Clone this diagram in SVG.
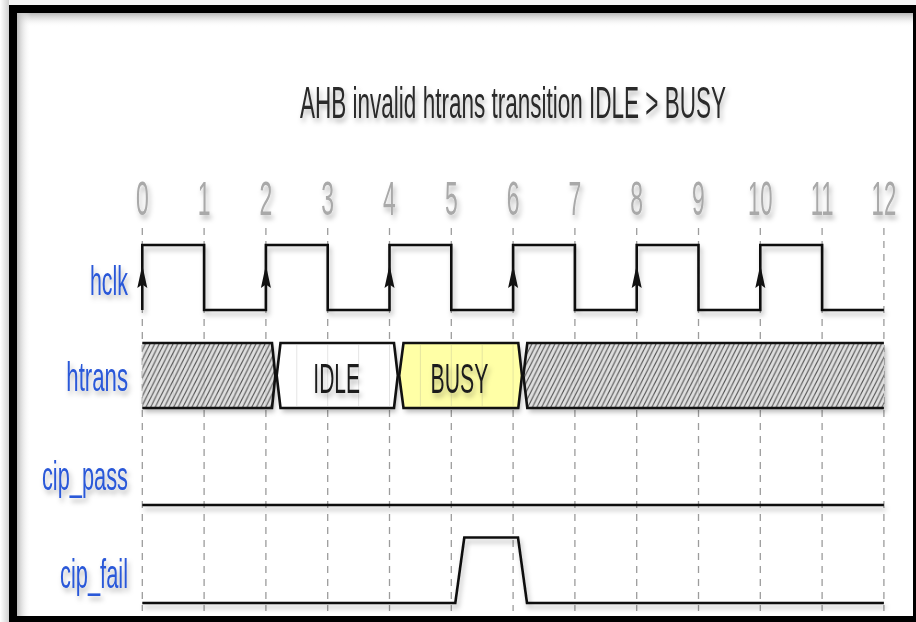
<svg xmlns="http://www.w3.org/2000/svg" width="916" height="622" viewBox="0 0 916 622">
  <style>
    .sig{fill:none;stroke:#111;stroke-width:2.6;stroke-linejoin:miter}
    .grid{stroke:#9c9c9c;stroke-width:1.3;stroke-dasharray:7 6}
    .faint{stroke:#8a8a8a;stroke-width:1;opacity:0.22}
    .lbl{font-family:"Liberation Sans",Arial,sans-serif;font-size:40px;fill:#2a58d8;text-anchor:end}
    .tick{font-family:"Liberation Sans",Arial,sans-serif;font-size:46px;fill:#a9a9a9;text-anchor:middle}
    .val{font-family:"Liberation Sans",Arial,sans-serif;font-size:42px;fill:#1e1e1e;text-anchor:middle}
    .title{font-family:"Liberation Sans",Arial,sans-serif;font-size:42px;fill:#2a2a2a;text-anchor:middle}
  </style>
  <defs>
    <filter id="sh" filterUnits="userSpaceOnUse" x="0" y="0" width="916" height="622">
      <feDropShadow dx="2" dy="4" stdDeviation="2.5" flood-color="#000" flood-opacity="0.28"/>
    </filter>
    <pattern id="hatch" patternUnits="userSpaceOnUse" width="4.6" height="9.2">
      <rect width="4.6" height="9.2" fill="#dedede"/>
      <path d="M0,9.2 L4.6,0 M-4.6,9.2 L0,0 M4.6,9.2 L9.2,0" stroke="#4a4a4a" stroke-width="1"/>
    </pattern>
    <linearGradient id="topSh" x1="0" y1="0" x2="0" y2="1">
      <stop offset="0" stop-color="#b8b8b8"/>
      <stop offset="1" stop-color="#ffffff" stop-opacity="0"/>
    </linearGradient>
    <linearGradient id="leftSh" x1="0" y1="0" x2="1" y2="0">
      <stop offset="0" stop-color="#bcbcbc"/>
      <stop offset="1" stop-color="#ffffff" stop-opacity="0"/>
    </linearGradient>
    <linearGradient id="outL" x1="0" y1="0" x2="1" y2="0">
      <stop offset="0" stop-color="#ffffff"/>
      <stop offset="1" stop-color="#d0d0d0"/>
    </linearGradient>
  </defs>

  <!-- background & frame -->
  <rect x="0" y="0" width="916" height="622" fill="#f6f6f6"/>
  <rect x="0" y="0" width="9" height="622" fill="url(#outL)"/>
  <rect x="13" y="9" width="904" height="611" fill="#ffffff"/>
  <rect x="17" y="13" width="896" height="14" fill="url(#topSh)"/>
  <rect x="17" y="13" width="14" height="603" fill="url(#leftSh)"/>
  <rect x="13" y="9" width="904" height="611" fill="none" stroke="#000" stroke-width="8"/>

  <!-- title -->
  <g id="title" filter="url(#sh)">
    <text class="title" transform="translate(513,118) scale(0.536,1.04)">AHB invalid htrans transition IDLE &gt; BUSY</text>
  </g>

  <!-- tick numbers -->
  <g id="ticks" filter="url(#sh)">
    <text class="tick" transform="translate(142.3,215) scale(0.5,1.04)">0</text>
    <text class="tick" transform="translate(204.1,215) scale(0.5,1.04)">1</text>
    <text class="tick" transform="translate(265.9,215) scale(0.5,1.04)">2</text>
    <text class="tick" transform="translate(327.7,215) scale(0.5,1.04)">3</text>
    <text class="tick" transform="translate(389.5,215) scale(0.5,1.04)">4</text>
    <text class="tick" transform="translate(451.3,215) scale(0.5,1.04)">5</text>
    <text class="tick" transform="translate(513.1,215) scale(0.5,1.04)">6</text>
    <text class="tick" transform="translate(574.9,215) scale(0.5,1.04)">7</text>
    <text class="tick" transform="translate(636.7,215) scale(0.5,1.04)">8</text>
    <text class="tick" transform="translate(698.5,215) scale(0.5,1.04)">9</text>
    <text class="tick" transform="translate(760.3,215) scale(0.48,1.04)">10</text>
    <text class="tick" transform="translate(822.1,215) scale(0.48,1.04)">11</text>
    <text class="tick" transform="translate(883.9,215) scale(0.48,1.04)">12</text>
  </g>

  <!-- grid -->
  <g id="grid">
    <line class="grid" x1="142.3" y1="228" x2="142.3" y2="611"/>
    <line class="grid" x1="204.1" y1="228" x2="204.1" y2="611"/>
    <line class="grid" x1="265.9" y1="228" x2="265.9" y2="611"/>
    <line class="grid" x1="327.7" y1="228" x2="327.7" y2="611"/>
    <line class="grid" x1="389.5" y1="228" x2="389.5" y2="611"/>
    <line class="grid" x1="451.3" y1="228" x2="451.3" y2="611"/>
    <line class="grid" x1="513.1" y1="228" x2="513.1" y2="611"/>
    <line class="grid" x1="574.9" y1="228" x2="574.9" y2="611"/>
    <line class="grid" x1="636.7" y1="228" x2="636.7" y2="611"/>
    <line class="grid" x1="698.5" y1="228" x2="698.5" y2="611"/>
    <line class="grid" x1="760.3" y1="228" x2="760.3" y2="611"/>
    <line class="grid" x1="822.1" y1="228" x2="822.1" y2="611"/>
    <line class="grid" x1="883.9" y1="228" x2="883.9" y2="611"/>
  </g>

  <!-- labels -->
  <g id="labels" filter="url(#sh)">
    <text class="lbl" transform="translate(128,295) scale(0.535,1)">hclk</text>
    <text class="lbl" transform="translate(128,391) scale(0.555,1)">htrans</text>
    <text class="lbl" transform="translate(128,490) scale(0.545,1)">cip_pass</text>
    <text class="lbl" transform="translate(128,588) scale(0.546,1)">cip_fail</text>
  </g>

  <!-- hclk -->
  <g id="hclk">
    <path class="sig" filter="url(#sh)" d="M142.3,310 V245 H204.1 V310 H265.9 V245 H327.7 V310 H389.5 V245 H451.3 V310 H513.1 V245 H574.9 V310 H636.7 V245 H698.5 V310 H760.3 V245 H822.1 V310 H883.9"/>
    <g fill="#111">
      <path d="M142.3,265 L147.3,288 L142.3,284.5 L137.3,288 Z"/>
      <path d="M265.9,265 L270.9,288 L265.9,284.5 L260.9,288 Z"/>
      <path d="M389.5,265 L394.5,288 L389.5,284.5 L384.5,288 Z"/>
      <path d="M513.1,265 L518.1,288 L513.1,284.5 L508.1,288 Z"/>
      <path d="M636.7,265 L641.7,288 L636.7,284.5 L631.7,288 Z"/>
      <path d="M760.3,265 L765.3,288 L760.3,284.5 L755.3,288 Z"/>
    </g>
  </g>

  <!-- htrans -->
  <g id="htrans">
    <g filter="url(#sh)">
      <path d="M142.3,343 H272 L275.3,375.5 L272,408 H142.3 Z" fill="url(#hatch)"/>
      <path d="M280.5,343 H394 L397.8,375.5 L394,408 H280.5 L276.7,375.5 Z" fill="#ffffff"/>
      <path d="M403.5,343 H518.3 L522,375.5 L518.3,408 H403.5 L399.2,375.5 Z" fill="#ffffa6"/>
      <path d="M883.9,343 H527.3 L523.4,375.5 L527.3,408 H883.9 Z" fill="url(#hatch)"/>
    </g>
    <g>
      <line class="faint" x1="173.2" y1="345" x2="173.2" y2="406"/>
      <line class="faint" x1="204.1" y1="345" x2="204.1" y2="406"/>
      <line class="faint" x1="235" y1="345" x2="235" y2="406"/>
      <line class="faint" x1="265.9" y1="345" x2="265.9" y2="406"/>
      <line class="faint" x1="296.8" y1="345" x2="296.8" y2="406"/>
      <line class="faint" x1="327.7" y1="345" x2="327.7" y2="406"/>
      <line class="faint" x1="358.6" y1="345" x2="358.6" y2="406"/>
      <line class="faint" x1="389.5" y1="345" x2="389.5" y2="406"/>
      <line class="faint" x1="420.4" y1="345" x2="420.4" y2="406"/>
      <line class="faint" x1="451.3" y1="345" x2="451.3" y2="406"/>
      <line class="faint" x1="482.2" y1="345" x2="482.2" y2="406"/>
      <line class="faint" x1="513.1" y1="345" x2="513.1" y2="406"/>
      <line class="faint" x1="574.9" y1="345" x2="574.9" y2="406"/>
      <line class="faint" x1="636.7" y1="345" x2="636.7" y2="406"/>
      <line class="faint" x1="698.5" y1="345" x2="698.5" y2="406"/>
      <line class="faint" x1="760.3" y1="345" x2="760.3" y2="406"/>
      <line class="faint" x1="822.1" y1="345" x2="822.1" y2="406"/>
    </g>
    <g class="sig">
      <path d="M142.3,343 H272 L275.3,375.5 L272,408 H142.3"/>
      <path d="M280.5,343 H394 L397.8,375.5 L394,408 H280.5 L276.7,375.5 Z"/>
      <path d="M403.5,343 H518.3 L522,375.5 L518.3,408 H403.5 L399.2,375.5 Z"/>
      <path d="M883.9,343 H527.3 L523.4,375.5 L527.3,408 H883.9"/>
    </g>
    <g filter="url(#sh)">
      <text class="val" transform="translate(336.7,393) scale(0.5,1)">IDLE</text>
      <text class="val" transform="translate(459.5,393) scale(0.505,1)">BUSY</text>
    </g>
  </g>

  <!-- cip_pass -->
  <g id="cip_pass">
    <path class="sig" filter="url(#sh)" d="M142.3,505 H883.9"/>
  </g>

  <!-- cip_fail -->
  <g id="cip_fail">
    <path class="sig" filter="url(#sh)" d="M142.3,603 H455.3 L464.3,537.5 H518 L527,603 H883.9"/>
  </g>
</svg>
